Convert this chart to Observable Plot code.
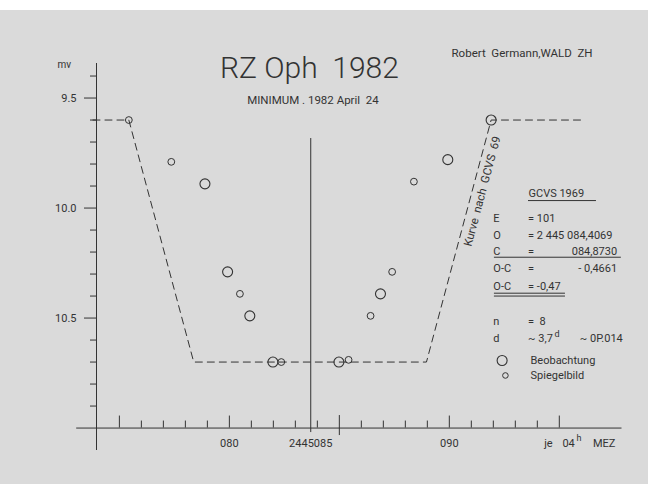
<!DOCTYPE html>
<html>
<head>
<meta charset="utf-8">
<script src="https://cdn.jsdelivr.net/npm/d3@7"></script>
<script src="https://cdn.jsdelivr.net/npm/@observablehq/plot@0.6"></script>
<style>
  html, body { margin: 0; padding: 0; background: #fff; }
  #chart svg { display: block; }
</style>
</head>
<body>
<div id="chart"></div>
<script>
// ---------- data ----------
// Observations (Beobachtung), large circles: day offset within JD 24450xx, magnitude
const obsDay = [78.89, 79.92, 80.93, 81.98, 84.98, 86.87, 89.93, 91.90];
const obsMag = [9.89, 10.29, 10.49, 10.70, 10.70, 10.39, 9.78, 9.60];
// Mirror points (Spiegelbild), small circles
const mirDay = [75.43, 77.36, 80.48, 82.36, 85.42, 86.42, 87.40, 88.39];
const mirMag = [9.60, 9.79, 10.39, 10.70, 10.69, 10.49, 10.29, 9.88];
// Light curve after GCVS 1969 (dashed)
const curveDay = [73.80, 75.43, 78.38, 88.96, 91.90, 96.15];
const curveMag = [9.60, 9.60, 10.70, 10.70, 9.60, 9.60];
// observed minimum (vertical line)
const minimumDay = [83.70];
// axis ticks
const magTicks = [9.4, 9.5, 9.6, 9.7, 9.8, 9.9, 10.0, 10.1, 10.2, 10.3, 10.4, 10.5, 10.6, 10.7, 10.8, 10.9];
const magLabels = [9.5, 10.0, 10.5];
const dayTicks = [75, 76, 77, 78, 79, 80, 81, 82, 83, 84, 86, 87, 88, 89, 90, 91, 92, 93, 94, 95];
const dayMajor = [75, 80, 90, 95];
const dayLong = [85];
const dayLabelDays = [80, 90];
const dayLabelTexts = ["080", "090"];
// texts
const titleText = "RZ Oph\u00A0 1982";
const subtitleText = "MINIMUM . 1982 April\u00A0 24";
const authorText = "Robert\u00A0 Germann,WALD\u00A0 ZH";
const yUnitText = "mv";
const jdText = "2445085";
const curveText = "Kurve\u00A0 nach\u00A0 GCVS\u00A0 69";
const blockLeft = ["E", "O", "C", "O-C", "O-C", "n", "d"];
const blockMid = ["= 101", "= 2 445 084,4069", "=", "=", "= -0,47", "=\u00A0 8", "~ 3,7"];
const blockRight = ["084,8730", "- 0,4661"];

// ---------- layout constants ----------
const INK = "#333";
const FONT = "Roboto, 'DejaVu Sans', sans-serif";
const yAxisDay = 73.96, xAxisMag = 11.0, yTop = 9.343, yBottom = 11.102;

const obs = obsDay.map((d, i) => ({day: d, mag: obsMag[i]}));
const mir = mirDay.map((d, i) => ({day: d, mag: mirMag[i]}));
const curve = curveDay.map((d, i) => ({day: d, mag: curveMag[i]}));

const rowY = [10.046, 10.125, 10.196, 10.276, 10.357, 10.516, 10.592];
const leftRows = blockLeft.map((t, i) => ({t, y: rowY[i]}));
const midRows = blockMid.map((t, i) => ({t, y: rowY[i]}));
const rightRows = blockRight.map((t, i) => ({t, y: rowY[i + 2]}));

const txt = (data, opts) => Plot.text(data, {fill: INK, fontFamily: FONT, ...opts});

const chart = Plot.plot({
  width: 648,
  height: 484,
  marginLeft: 96,
  marginRight: 26.5,
  marginTop: 63,
  marginBottom: 34,
  x: {domain: [73.96, 97.85], axis: null},
  y: {domain: [yTop, yBottom], reverse: true, axis: null},
  style: {fontFamily: FONT, background: "transparent", color: INK, overflow: "visible"},
  marks: [
    // y axis line
    Plot.ruleX([{x: yAxisDay, y1: yTop, y2: yBottom}], {x: "x", y1: "y1", y2: "y2", stroke: INK, strokeWidth: 1}),
    // x axis line
    Plot.ruleY([{y: xAxisMag, x1: 73.06, x2: 97.85}], {y: "y", x1: "x1", x2: "x2", stroke: INK, strokeWidth: 1}),
    // y ticks
    Plot.ruleY(magTicks.filter(m => !magLabels.includes(m)), {y: d => d, x1: () => yAxisDay, x2: () => yAxisDay, insetLeft: -6, stroke: INK}),
    Plot.ruleY(magLabels, {y: d => d, x1: () => yAxisDay, x2: () => yAxisDay, insetLeft: -12, stroke: INK}),
    txt(magLabels, {x: () => yAxisDay, y: d => d, text: d => d.toFixed(1), textAnchor: "end", dx: -20, fontSize: 11}),
    txt([yUnitText], {x: () => 72.19, y: () => 9.348, text: d => d, textAnchor: "start", fontSize: 10}),
    // x ticks
    Plot.ruleX(dayTicks.filter(d => !dayMajor.includes(d)), {x: d => d, y1: () => xAxisMag, y2: () => xAxisMag, insetTop: -7, stroke: INK}),
    Plot.ruleX(dayMajor, {x: d => d, y1: () => xAxisMag, y2: () => xAxisMag, insetTop: -12, stroke: INK}),
    Plot.ruleX(dayLong, {x: d => d, y1: () => xAxisMag, y2: () => xAxisMag, insetTop: -12.5, insetBottom: -7.5, stroke: INK}),
    txt(dayLabelDays, {x: d => d, y: () => xAxisMag, text: (d, i) => dayLabelTexts[i], dy: 15, fontSize: 11}),
    txt([jdText], {x: () => minimumDay[0], y: () => xAxisMag, text: d => d, dy: 15, fontSize: 11}),
    txt(["je"], {x: () => 94.31, y: () => xAxisMag, text: d => d, textAnchor: "start", dy: 15, fontSize: 11}),
    txt(["04"], {x: () => 95.14, y: () => xAxisMag, text: d => d, textAnchor: "start", dy: 15, fontSize: 11}),
    txt(["h"], {x: () => 95.78, y: () => xAxisMag, text: d => d, textAnchor: "start", dy: 10, fontSize: 9}),
    txt(["MEZ"], {x: () => 96.53, y: () => xAxisMag, text: d => d, textAnchor: "start", dy: 15, fontSize: 11}),
    // minimum line
    Plot.ruleX(minimumDay, {x: d => d, y1: () => 9.684, y2: () => xAxisMag, insetBottom: -4.5, stroke: INK, strokeWidth: 1}),
    // GCVS curve
    Plot.line(curve, {x: "day", y: "mag", stroke: INK, strokeWidth: 1, strokeDasharray: "7,5"}),
    // points
    Plot.dot(mir, {x: "day", y: "mag", r: 3.4, stroke: INK, fill: "none", strokeWidth: 1}),
    Plot.dot(obs, {x: "day", y: "mag", r: 5, stroke: INK, fill: "none", strokeWidth: 1.1}),
    // headings
    txt([titleText], {x: () => 83.64, y: () => 9.3635, text: d => d, fontSize: 30, fontWeight: 300}),
    txt([subtitleText], {x: () => 83.80, y: () => 9.511, text: d => d, fontSize: 11.5}),
    txt([authorText], {x: () => 90.10, y: () => 9.2975, text: d => d, textAnchor: "start", fontSize: 11.5}),
    // curve label
    txt([curveText], {x: () => 91.50, y: () => 9.924, text: d => d, rotate: -75, fontSize: 11.5}),
    // right block
    txt(["GCVS 1969"], {x: () => 93.60, y: () => 9.9325, text: d => d, textAnchor: "start", fontSize: 11}),
    Plot.ruleY([{y: 9.966, x1: 93.60, x2: 96.69}, {y: 10.2235, x1: 92.05, x2: 97.82},
                {y: 10.387, x1: 92.05, x2: 95.28}, {y: 10.400, x1: 92.05, x2: 95.28}],
               {y: "y", x1: "x1", x2: "x2", stroke: INK, strokeWidth: 1}),
    txt(leftRows, {x: () => 92.00, y: "y", text: "t", textAnchor: "start", fontSize: 11}),
    txt(midRows, {x: () => 93.58, y: "y", text: "t", textAnchor: "start", fontSize: 11}),
    txt(rightRows, {x: () => 97.63, y: "y", text: "t", textAnchor: "end", fontSize: 11}),
    txt(["d"], {x: () => 94.78, y: () => 10.592, text: d => d, textAnchor: "start", dy: -4.5, fontSize: 9}),
    txt(["~ 0P.014"], {x: () => 95.93, y: () => 10.592, text: d => d, textAnchor: "start", fontSize: 11}),
    // legend
    Plot.dot([{x: 92.40, y: 10.693}], {x: "x", y: "y", r: 5, stroke: INK, fill: "none", strokeWidth: 1.1}),
    Plot.dot([{x: 92.55, y: 10.761}], {x: "x", y: "y", r: 2.8, stroke: INK, fill: "none", strokeWidth: 1}),
    txt(["Beobachtung"], {x: () => 93.69, y: () => 10.693, text: d => d, textAnchor: "start", fontSize: 11}),
    txt(["Spiegelbild"], {x: () => 93.69, y: () => 10.761, text: d => d, textAnchor: "start", fontSize: 11})
  ]
});
chart.style.background = "linear-gradient(#ffffff 0, #ffffff 10px, #dadada 10px)";
document.getElementById("chart").appendChild(chart);
</script>
</body>
</html>
